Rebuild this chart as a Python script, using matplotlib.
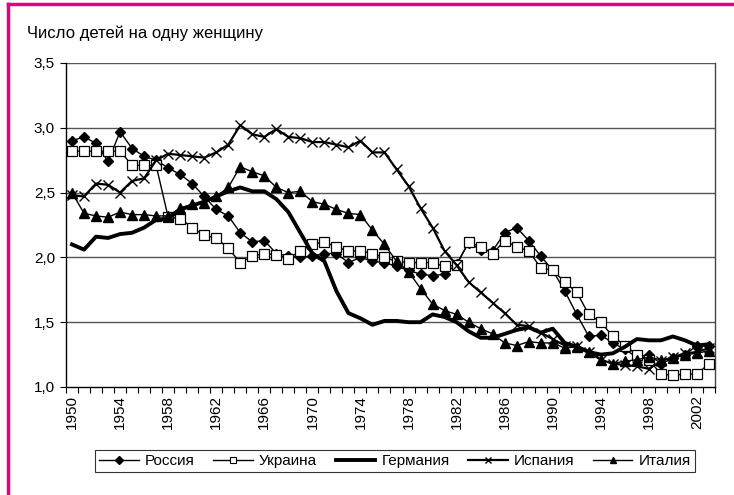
import numpy as np
import matplotlib.pyplot as plt
from matplotlib.lines import Line2D

plt.rcParams['font.family'] = ['Liberation Sans', 'DejaVu Sans']

years = list(range(1950, 2004))

russia = [2.90, 2.93, 2.88, 2.74, 2.97, 2.84, 2.78, 2.75, 2.69, 2.64,
          2.57, 2.47, 2.37, 2.32, 2.19, 2.12, 2.13, 2.03, 2.01, 2.00,
          2.01, 2.03, 2.03, 1.96, 2.00, 1.97, 1.96, 1.93, 1.90, 1.87,
          1.86, 1.87, 1.95, 2.11, 2.06, 2.05, 2.19, 2.23, 2.13, 2.01,
          1.90, 1.74, 1.56, 1.39, 1.40, 1.34, 1.29, 1.23, 1.25, 1.18,
          1.22, 1.25, 1.32, 1.32]

ukraine = [2.82, 2.82, 2.82, 2.82, 2.82, 2.71, 2.71, 2.71, 2.31, 2.30,
           2.23, 2.17, 2.15, 2.07, 1.96, 2.01, 2.03, 2.02, 1.99, 2.05,
           2.10, 2.12, 2.08, 2.05, 2.05, 2.03, 2.00, 1.97, 1.96, 1.96,
           1.96, 1.93, 1.94, 2.12, 2.08, 2.03, 2.13, 2.08, 2.05, 1.92,
           1.90, 1.81, 1.73, 1.56, 1.50, 1.39, 1.32, 1.25, 1.21, 1.10,
           1.09, 1.10, 1.10, 1.18]

germany = [2.10, 2.06, 2.16, 2.15, 2.18, 2.19, 2.23, 2.29, 2.30, 2.37,
           2.40, 2.43, 2.47, 2.51, 2.54, 2.51, 2.51, 2.45, 2.35, 2.19,
           2.03, 1.97, 1.74, 1.57, 1.53, 1.48, 1.51, 1.51, 1.50, 1.50,
           1.56, 1.54, 1.50, 1.43, 1.38, 1.38, 1.41, 1.44, 1.46, 1.42,
           1.45, 1.34, 1.31, 1.27, 1.25, 1.26, 1.31, 1.37, 1.36, 1.36,
           1.39, 1.36, 1.32, 1.33]

spain = [2.48, 2.47, 2.57, 2.56, 2.50, 2.59, 2.61, 2.75, 2.80, 2.79,
         2.78, 2.77, 2.81, 2.87, 3.02, 2.95, 2.93, 2.99, 2.93, 2.92,
         2.89, 2.89, 2.87, 2.85, 2.90, 2.81, 2.81, 2.68, 2.55, 2.38,
         2.23, 2.05, 1.94, 1.81, 1.73, 1.65, 1.57, 1.48, 1.47, 1.42,
         1.37, 1.32, 1.32, 1.27, 1.21, 1.18, 1.17, 1.16, 1.14, 1.20,
         1.23, 1.26, 1.27, 1.30]

italy = [2.50, 2.34, 2.32, 2.31, 2.35, 2.33, 2.33, 2.32, 2.32, 2.38,
         2.41, 2.42, 2.47, 2.54, 2.70, 2.66, 2.63, 2.54, 2.50, 2.51,
         2.43, 2.41, 2.37, 2.34, 2.33, 2.21, 2.10, 1.97, 1.89, 1.76,
         1.64, 1.59, 1.56, 1.50, 1.45, 1.41, 1.34, 1.32, 1.35, 1.34,
         1.34, 1.30, 1.31, 1.27, 1.21, 1.18, 1.20, 1.21, 1.23, 1.21,
         1.22, 1.25, 1.26, 1.28]

names = ['Россия', 'Украина', 'Германия', 'Испания', 'Италия']
yticks = [1.0, 1.5, 2.0, 2.5, 3.0, 3.5]

fig = plt.figure(figsize=(7.34, 4.95), dpi=100)
ax = fig.add_axes([66/734, 108/495, 649/734, 324/495])

x = np.arange(len(years))
ax.plot(x, russia, color='black', lw=1, marker='D', ms=5.5, mfc='black', zorder=3)
ax.plot(x, ukraine, color='black', lw=1, marker='s', ms=7, mfc='white', mec='black', mew=0.9, zorder=3)
ax.plot(x, germany, color='black', lw=2.8, zorder=3)
ax.plot(x, spain, color='black', lw=1.6, marker='x', ms=7.5, mew=1, zorder=3)
ax.plot(x, italy, color='black', lw=1, marker='^', ms=7.5, mfc='black', zorder=3)

ax.set_xlim(-0.5, len(years) - 0.5)
ax.set_ylim(1.0, 3.5)
ax.set_yticks(yticks)
ax.set_yticklabels([('%.1f' % v).replace('.', ',') for v in yticks], fontsize=11)
for v in yticks[1:]:
    ax.axhline(v, color='#555555', lw=1, zorder=1)

ax.set_xticks(x[::4])
ax.set_xticklabels([str(y) for y in years[::4]], rotation=90, fontsize=11)
ax.set_xticks(np.arange(len(years) + 1) - 0.5, minor=True)
ax.tick_params(axis='x', which='major', length=0, pad=6)
ax.tick_params(axis='x', which='minor', length=4, width=0.8, direction='out')
ax.tick_params(axis='y', length=4, width=0.8, direction='out', pad=4)

for s in ['left', 'bottom', 'right']:
    ax.spines[s].set_color('black')
    ax.spines[s].set_linewidth(1)
ax.spines['right'].set_color('#444444')
ax.spines['top'].set_visible(False)

fig.text(27/734, 1 - 33/495, 'Число детей на одну женщину', fontsize=12, va='center', ha='left')

handles = [
    Line2D([], [], color='black', lw=1, marker='D', ms=4, mfc='black'),
    Line2D([], [], color='black', lw=1, marker='s', ms=4.5, mfc='white', mec='black', mew=0.8),
    Line2D([], [], color='black', lw=2.8),
    Line2D([], [], color='black', lw=1.6, marker='x', ms=5, mew=1),
    Line2D([], [], color='black', lw=1, marker='^', ms=5, mfc='black'),
]
leg = fig.legend(handles, names, loc='center', bbox_to_anchor=(395/734, 1 - 461/495),
                 ncol=5, frameon=True, fancybox=False, edgecolor='#333333', fontsize=11,
                 handlelength=2.6, handletextpad=0.4, columnspacing=1.2,
                 borderpad=0.25, framealpha=1)
leg.get_frame().set_linewidth(0.8)

pink = '#e6007e'
fig.add_artist(Line2D([8/734, 8/734], [0, 1 - 4/495], color=pink, lw=2.5, transform=fig.transFigure))
fig.add_artist(Line2D([8/734, 1], [1 - 4/495, 1 - 4/495], color=pink, lw=2.5, transform=fig.transFigure))

fig.savefig('out.png', dpi=100)
